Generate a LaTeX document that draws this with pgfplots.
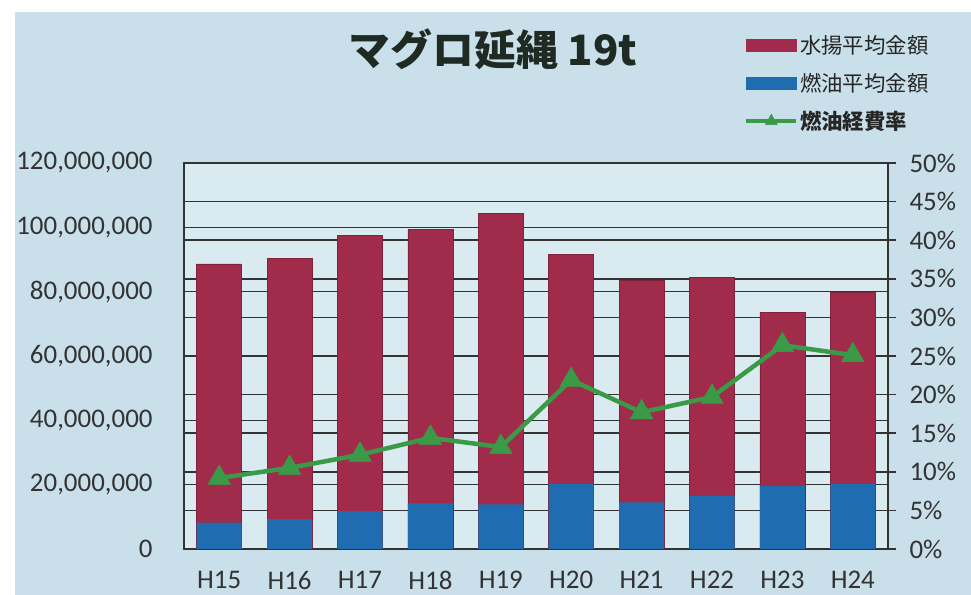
\documentclass[border=0pt]{standalone}
\usepackage{pgfplots}
\pgfplotsset{compat=1.18}
\usepackage{fontspec}
\setmainfont{Carlito}
\newfontfamily\jp{Noto Sans CJK JP}
\definecolor{bg}{HTML}{C9E0EB}
\definecolor{plotbg}{HTML}{D9EAF1}
\definecolor{redbar}{HTML}{A12B4A}
\definecolor{bluebar}{HTML}{1F6CB0}
\definecolor{greenl}{HTML}{3A9A48}
\definecolor{gridc}{HTML}{333333}
\definecolor{titlec}{HTML}{1E2A22}
\begin{document}
\begin{tikzpicture}[x=1bp,y=1bp]
\fill[white] (0,0) rectangle (971,595);
\fill[bg] (15,0) rectangle (971,583);
\node[font=\jp\bfseries\fontsize{42}{42}\selectfont, text=titlec] at (493,546) {マグロ延縄 19t};
\begin{axis}[
  at={(184bp,46bp)}, anchor=south west, scale only axis,
  width=704bp, height=386bp,
  xmin=-0.5, xmax=9.5, ymin=0, ymax=120000000,
  enlargelimits=false,
  axis background/.style={fill=plotbg},
  axis line style={gridc, line width=1.5bp},
  ytick={0,20000000,40000000,60000000,80000000,100000000,120000000},
  extra y ticks={12000000,24000000,36000000,48000000,60000000,72000000,84000000,96000000,108000000},
  extra y tick labels={},
  extra y tick style={grid=major},
  ymajorgrids, grid style={gridc, line width=1.5bp},
  scaled y ticks=false,
  yticklabel style={xshift=-28bp, /pgf/number format/fixed, /pgf/number format/precision=0, /pgf/number format/1000 sep={,}, /pgf/number format/assume math mode=true},
  xtick={0,...,9},
  xticklabels={H15,H16,H17,H18,H19,H20,H21,H22,H23,H24},
  major tick length=0pt,
  ytick pos=left, xtick pos=bottom,
  tick label style={font=\fontsize{27}{27}\selectfont, text=gridc},
  xticklabel style={yshift=-19bp},
]
\addplot[ybar, bar width=45bp, bar shift=0pt, fill=redbar, draw=redbar!80!black, line width=0.8bp] coordinates {
(0,88600000) (1,90400000) (2,97400000) (3,99200000) (4,104400000)
(5,91700000) (6,83600000) (7,84500000) (8,73600000) (9,79800000)};
\addplot[ybar, bar width=45bp, bar shift=0pt, fill=bluebar, draw=none] coordinates {
(0,8200000) (1,9300000) (2,11800000) (3,14200000) (4,13900000)
(5,20200000) (6,14500000) (7,16600000) (8,19700000) (9,20200000)};
\end{axis}
\begin{axis}[
  at={(184bp,46bp)}, anchor=south west, scale only axis,
  width=704bp, height=386bp,
  xmin=-0.5, xmax=9.5, ymin=0, ymax=50,
  enlargelimits=false,
  axis x line=none, axis y line*=right,
  axis line style={gridc, line width=1.5bp},
  ytick={0,5,...,50},
  yticklabel={\pgfmathprintnumber{\tick}\%},
  yticklabel style={xshift=10bp, /pgf/number format/assume math mode=true},
  tick style={gridc, line width=1.5bp},
  tick align=center, major tick length=16bp,
  tick label style={font=\fontsize{27}{27}\selectfont, text=gridc},
  legend style={at={(1.065,1.342)}, anchor=north east, draw=none, fill=none,
    font=\jp\fontsize{21.5}{21.5}\selectfont, text=black!85, row sep=14.5bp,
    nodes={inner sep=2bp}},
  legend cell align=left,
]
\addlegendimage{legend image code/.code={\fill[redbar] (0bp,-6bp) rectangle (50bp,6bp);}}
\addlegendentry{水揚平均金額}
\addlegendimage{legend image code/.code={\fill[bluebar] (0bp,-6bp) rectangle (50bp,6bp);}}
\addlegendentry{燃油平均金額}
\addplot[greenl, line width=4.5bp, mark=triangle*, mark size=13bp, mark options={fill=greenl, line width=0.5bp},
  legend image code/.code={\draw[greenl, line width=3.5bp, mark=triangle*, mark size=7bp, mark repeat=2, mark phase=2] plot coordinates {(0bp,0bp) (25bp,0bp) (50bp,0bp)};}] coordinates {
(0,9.2) (1,10.5) (2,12.2) (3,14.4) (4,13.2)
(5,21.9) (6,17.7) (7,19.7) (8,26.4) (9,25.1)};
\addlegendentry{\bfseries 燃油経費率}
\end{axis}
\end{tikzpicture}
\end{document}
